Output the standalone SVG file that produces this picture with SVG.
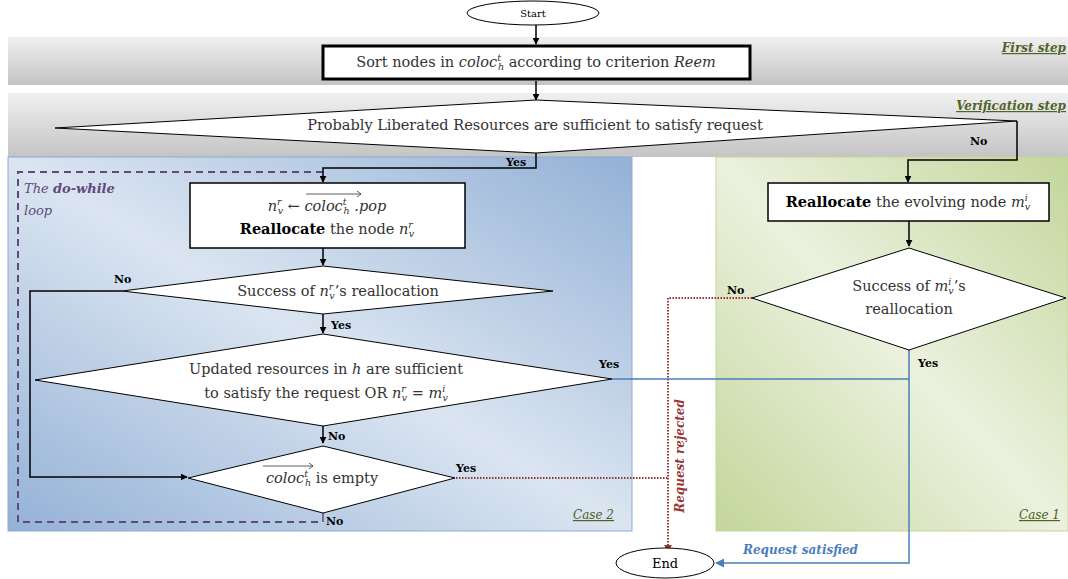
<svg xmlns="http://www.w3.org/2000/svg" width="1068" height="579" viewBox="0 0 1068 579">
<defs>
  <linearGradient id="gray" x1="0" y1="0" x2="0" y2="1">
    <stop offset="0" stop-color="#f0f0f0"/>
    <stop offset="1" stop-color="#c4c4c4"/>
  </linearGradient>
  <linearGradient id="blue" x1="0" y1="1" x2="1" y2="0">
    <stop offset="0" stop-color="#93b1d6"/>
    <stop offset="0.5" stop-color="#dbe5f1"/>
    <stop offset="1" stop-color="#93b1d6"/>
  </linearGradient>
  <linearGradient id="green" x1="0" y1="1" x2="1" y2="0">
    <stop offset="0" stop-color="#c3d69b"/>
    <stop offset="0.5" stop-color="#ebf1de"/>
    <stop offset="1" stop-color="#c3d69b"/>
  </linearGradient>
  <marker id="ah" viewBox="0 0 10 10" refX="9" refY="5" markerWidth="7" markerHeight="7" orient="auto" markerUnits="userSpaceOnUse">
    <path d="M0,0 L10,5 L0,10 z" fill="#000"/>
  </marker>
  <marker id="ahr" viewBox="0 0 10 10" refX="9" refY="5" markerWidth="8" markerHeight="8" orient="auto" markerUnits="userSpaceOnUse">
    <path d="M0,0 L10,5 L0,10 z" fill="#953734"/>
  </marker>
  <marker id="ahb" viewBox="0 0 10 10" refX="9" refY="5" markerWidth="9" markerHeight="9" orient="auto" markerUnits="userSpaceOnUse">
    <path d="M0,0 L10,5 L0,10 z" fill="#4a7ebb"/>
  </marker>
  <style>
    .t { font-family: "DejaVu Serif", serif; font-size: 14.5px; fill: #333; }
    .m { font-style: italic; }
    .s { font-size: 9.5px; }
    .lbl { font-family: "DejaVu Serif", serif; font-size: 11px; font-weight: bold; fill: #000; }
    .step { font-family: "DejaVu Serif", serif; font-size: 12px; font-style: italic; font-weight: bold; fill: #4f6228; text-decoration: underline; }
    .case { font-family: "DejaVu Serif", serif; font-size: 12px; font-style: italic; fill: #4f6228; text-decoration: underline; }
    .shape { fill: #fff; stroke: #000; stroke-width: 1; }
    .conn { fill: none; stroke: #000; stroke-width: 1.5; }
    .rej { fill: none; stroke: #953734; stroke-width: 2; stroke-dasharray: 1.5 1.5; }
    .sat { fill: none; stroke: #4a7ebb; stroke-width: 1.5; }
  </style>
</defs>

<!-- backgrounds -->
<g id="bands">
  <rect x="8" y="37" width="1060" height="48" fill="url(#gray)"/>
  <rect x="8" y="93" width="1060" height="64" fill="url(#gray)"/>
  <rect x="8" y="157" width="624" height="374" fill="url(#blue)" stroke="#8eaad0" stroke-width="1"/>
  <rect x="716" y="157" width="352" height="374" fill="url(#green)" stroke="#c3d69b" stroke-width="1"/>
  <text class="step" x="1066" y="52" text-anchor="end">First step</text>
  <text class="step" x="1066" y="110" text-anchor="end">Verification step</text>
  <text class="case" x="614" y="519" text-anchor="end">Case 2</text>
  <text class="case" x="1060" y="519" text-anchor="end">Case 1</text>
</g>

<g id="loop">
  <path d="M323,172 L18,172 L18,522 L323,522" fill="none" stroke="#604a7b" stroke-width="2" stroke-dasharray="7 5"/>
  <text x="24" y="193" font-family="DejaVu Serif, serif" font-size="13" font-style="italic" fill="#604a7b">The <tspan font-weight="bold">do-while</tspan></text>
  <text x="24" y="215" font-family="DejaVu Serif, serif" font-size="13" font-style="italic" fill="#604a7b">loop</text>
</g>

<!-- connectors -->
<g id="connectors">
  <path class="conn" d="M536,24 L536,44" marker-end="url(#ah)"/>
  <path class="conn" d="M536,81 L536,100" marker-end="url(#ah)"/>
  <path class="conn" d="M536,153 L536,168 L323,168 L323,182" marker-end="url(#ah)"/>
  <path class="conn" d="M1017,121 L1017,160 L908,160 L908,182" marker-end="url(#ah)"/>
  <path class="conn" d="M909,221 L909,246" marker-end="url(#ah)"/>
  <path class="conn" d="M323,248 L323,265" marker-end="url(#ah)"/>
  <path class="conn" d="M323,314 L323,333" marker-end="url(#ah)"/>
  <path class="conn" d="M323,425 L323,443" marker-end="url(#ah)"/>
  <path class="conn" d="M122,291 L30,291 L30,477 L187,477" marker-end="url(#ah)"/>
  <path d="M323,512 L323,522" fill="none" stroke="#604a7b" stroke-width="1.5"/>
  <path class="rej" d="M752,298 L668,298 L668,552" marker-end="url(#ahr)"/>
  <path class="rej" d="M456,478 L668,478"/>
  <path class="sat" d="M612,379 L909,379"/>
  <path class="sat" d="M909,350 L909,563 L716,563" marker-end="url(#ahb)"/>
  <text class="lbl" x="506" y="166">Yes</text>
  <text class="lbl" x="970" y="145">No</text>
  <text class="lbl" x="114" y="283">No</text>
  <text class="lbl" x="331" y="329">Yes</text>
  <text class="lbl" x="328" y="440">No</text>
  <text class="lbl" x="456" y="472">Yes</text>
  <text class="lbl" x="326" y="525">No</text>
  <text class="lbl" x="599" y="368">Yes</text>
  <text class="lbl" x="727" y="294">No</text>
  <text class="lbl" x="918" y="367">Yes</text>
  <text x="743" y="554" font-family="DejaVu Serif, serif" font-size="12" font-style="italic" font-weight="bold" fill="#4a7ebb">Request  satisfied</text>
  <text transform="translate(684,456) rotate(-90)" text-anchor="middle" font-family="DejaVu Serif, serif" font-size="12" font-style="italic" font-weight="bold" fill="#953734">Request rejected</text>
</g>

<!-- nodes -->
<g id="start">
  <ellipse class="shape" cx="533" cy="13" rx="66" ry="12"/>
  <text x="533" y="17" text-anchor="middle" font-family="DejaVu Serif, serif" font-size="10">Start</text>
</g>

<g id="sort">
  <rect x="323" y="46" width="427" height="33" fill="#fff" stroke="#000" stroke-width="3"/>
  <text class="t" x="536" y="67" text-anchor="middle">Sort nodes in <tspan class="m">coloc</tspan><tspan class="m s" dy="-6">t</tspan><tspan class="m s" dx="-3" dy="9">h</tspan><tspan dy="-3"> according to criterion </tspan><tspan class="m">Reem</tspan></text>
</g>

<g id="verify">
  <polygon class="shape" points="55,128 536,100 1017,121 536,153"/>
  <text class="t" x="535" y="130" text-anchor="middle">Probably Liberated Resources are sufficient to satisfy request</text>
</g>

<g id="pop">
  <rect x="190" y="183" width="275" height="65" fill="#fff" stroke="#000" stroke-width="1.5"/>
  <text class="t" x="327" y="211" text-anchor="middle"><tspan class="m">n</tspan><tspan class="m s" dy="-6">r</tspan><tspan class="m s" dx="-4" dy="9">v</tspan><tspan dy="-3"> ← </tspan><tspan class="m">coloc</tspan><tspan class="m s" dy="-6">t</tspan><tspan class="m s" dx="-3" dy="9">h</tspan><tspan class="m" dy="-3"> .pop</tspan></text>
  <path d="M306,194 L361,194 M357,191 L361,194 L357,197" fill="none" stroke="#333" stroke-width="0.8"/>
  <text class="t" x="327" y="234" text-anchor="middle"><tspan font-weight="bold" fill="#000">Reallocate</tspan> the node <tspan class="m">n</tspan><tspan class="m s" dy="-6">r</tspan><tspan class="m s" dx="-4" dy="9">v</tspan></text>
</g>

<g id="succ-n">
  <polygon class="shape" points="122,291 323,266 553,291 323,314"/>
  <text class="t" x="338" y="296" text-anchor="middle">Success of <tspan class="m">n</tspan><tspan class="m s" dy="-6">r</tspan><tspan class="m s" dx="-4" dy="9">v</tspan><tspan dy="-3">’s reallocation</tspan></text>
</g>

<g id="updated">
  <polygon class="shape" points="35,380 323,334 612,379 323,426"/>
  <text class="t" x="326" y="374" text-anchor="middle">Updated resources in <tspan class="m">h</tspan> are sufficient</text>
  <text class="t" x="326" y="398" text-anchor="middle">to satisfy the request OR <tspan class="m">n</tspan><tspan class="m s" dy="-6">r</tspan><tspan class="m s" dx="-4" dy="9">v</tspan><tspan dy="-3"> = </tspan><tspan class="m">m</tspan><tspan class="m s" dy="-6">i</tspan><tspan class="m s" dx="-3" dy="9">v</tspan></text>
</g>

<g id="empty">
  <polygon class="shape" points="188,478 323,446 455,478 323,513"/>
  <text class="t" x="322" y="483" text-anchor="middle"><tspan class="m">coloc</tspan><tspan class="m s" dy="-6">t</tspan><tspan class="m s" dx="-3" dy="9">h</tspan><tspan dy="-3"> is empty</tspan></text>
  <path d="M263,466 L313,466 M309,463 L313,466 L309,469" fill="none" stroke="#333" stroke-width="0.8"/>
</g>

<g id="realloc-m">
  <rect x="768" y="183" width="281" height="38" fill="#fff" stroke="#000" stroke-width="1.5"/>
  <text class="t" x="908" y="207" text-anchor="middle"><tspan font-weight="bold" fill="#000">Reallocate</tspan> the evolving node <tspan class="m">m</tspan><tspan class="m s" dy="-6">i</tspan><tspan class="m s" dx="-3" dy="9">v</tspan></text>
</g>

<g id="succ-m">
  <polygon class="shape" points="752,298 909,248 1066,298 909,350"/>
  <text class="t" x="909" y="291" text-anchor="middle">Success of <tspan class="m">m</tspan><tspan class="m s" dy="-6">i</tspan><tspan class="m s" dx="-3" dy="9">v</tspan><tspan dy="-3">’s</tspan></text>
  <text class="t" x="909" y="314" text-anchor="middle">reallocation</text>
</g>

<g id="end">
  <ellipse class="shape" cx="665" cy="563" rx="49" ry="15"/>
  <text x="665" y="568" text-anchor="middle" font-family="DejaVu Serif, serif" font-size="13">End</text>
</g>
</svg>
